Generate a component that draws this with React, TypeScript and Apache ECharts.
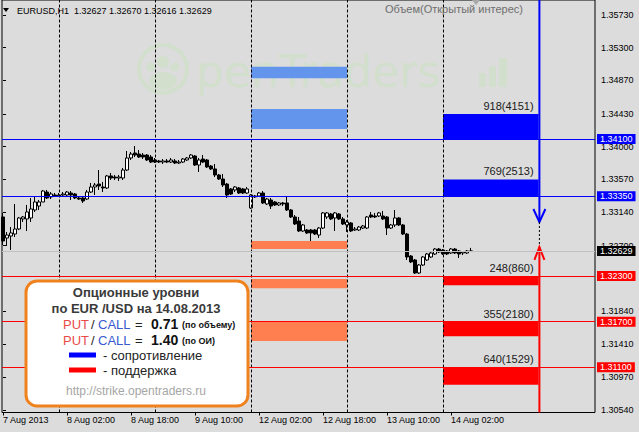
import React, { useEffect, useRef } from "react";
import * as echarts from "echarts";

// ---- time axis (hourly bars) ----
const sessionDays = ["7 Aug", "8 Aug", "9 Aug", "12 Aug", "13 Aug", "14 Aug"];
const sessionFirstHour = [10, 0, 0, 0, 0, 0];
const sessionLastHour = [23, 23, 23, 23, 23, 7];
const xTickLabels = ["7 Aug 2013", "8 Aug 02:00", "8 Aug 18:00", "9 Aug 10:00", "12 Aug 02:00", "12 Aug 18:00", "13 Aug 10:00", "14 Aug 02:00"];

// ---- EURUSD H1 OHLC ----
const opens = [1.33076, 1.328, 1.32826, 1.32852, 1.32918, 1.3305, 1.3305, 1.33063, 1.33168, 1.3322, 1.33273, 1.33404, 1.33339, 1.33365, 1.33352, 1.33365, 1.33365, 1.33391, 1.33378, 1.33326, 1.33326, 1.33312, 1.33404, 1.3347, 1.33509, 1.3347, 1.33457, 1.33615, 1.33601, 1.33588, 1.33588, 1.33693, 1.33851, 1.33917, 1.33903, 1.3389, 1.3389, 1.33864, 1.33825, 1.33812, 1.33798, 1.33812, 1.33798, 1.33812, 1.33785, 1.33798, 1.33825, 1.33851, 1.33877, 1.33759, 1.33838, 1.33825, 1.33746, 1.33707, 1.33628, 1.33575, 1.33509, 1.33444, 1.33431, 1.33457, 1.33444, 1.33391, 1.33194, 1.33352, 1.33352, 1.33391, 1.33247, 1.33299, 1.33273, 1.33234, 1.3326, 1.3326, 1.33168, 1.33076, 1.33023, 1.32892, 1.32905, 1.32905, 1.32905, 1.32839, 1.32931, 1.33076, 1.33115, 1.33063, 1.33115, 1.3305, 1.32971, 1.32997, 1.32905, 1.32905, 1.32931, 1.32931, 1.33102, 1.33089, 1.33089, 1.33089, 1.33076, 1.32931, 1.32971, 1.33063, 1.32971, 1.32852, 1.32563, 1.32511, 1.3234, 1.32445, 1.32511, 1.3255, 1.3259, 1.32655, 1.32642, 1.32629, 1.32603, 1.32655, 1.32629, 1.32603, 1.32603, 1.32627];
const highs = [1.33129, 1.32879, 1.32944, 1.33247, 1.33076, 1.33089, 1.33234, 1.33326, 1.33339, 1.33299, 1.33431, 1.33431, 1.33404, 1.33391, 1.33391, 1.33404, 1.33417, 1.33417, 1.33391, 1.33352, 1.33339, 1.33431, 1.33523, 1.33523, 1.33693, 1.33536, 1.33628, 1.33654, 1.33628, 1.33628, 1.3372, 1.33943, 1.3393, 1.34009, 1.33956, 1.33917, 1.33903, 1.3389, 1.33851, 1.33825, 1.33838, 1.33838, 1.33851, 1.33838, 1.33825, 1.33851, 1.33864, 1.33903, 1.3389, 1.33851, 1.3389, 1.33838, 1.33759, 1.33772, 1.33641, 1.33641, 1.33523, 1.33457, 1.33483, 1.3347, 1.33457, 1.3347, 1.33378, 1.33365, 1.33404, 1.33417, 1.33326, 1.33326, 1.33286, 1.33273, 1.33273, 1.33352, 1.33181, 1.33102, 1.33076, 1.32984, 1.32918, 1.32918, 1.32918, 1.32944, 1.33142, 1.33142, 1.33129, 1.33142, 1.33129, 1.33076, 1.33036, 1.3301, 1.32944, 1.32958, 1.32971, 1.33089, 1.33142, 1.33129, 1.33142, 1.33155, 1.33089, 1.32984, 1.33168, 1.33076, 1.32984, 1.32866, 1.32576, 1.32524, 1.32458, 1.32563, 1.32603, 1.32629, 1.32668, 1.32668, 1.32655, 1.32642, 1.32668, 1.32668, 1.32642, 1.32629, 1.32642, 1.3267];
const lows = [1.32708, 1.32695, 1.32642, 1.32813, 1.32905, 1.3301, 1.32892, 1.3301, 1.33142, 1.33168, 1.33273, 1.33312, 1.33312, 1.33339, 1.33339, 1.33352, 1.33339, 1.33299, 1.33312, 1.33299, 1.3326, 1.33299, 1.33391, 1.33365, 1.33431, 1.33404, 1.33444, 1.33562, 1.33562, 1.33549, 1.33562, 1.3368, 1.33825, 1.33864, 1.33851, 1.33838, 1.33812, 1.33785, 1.33785, 1.33785, 1.33772, 1.33785, 1.33785, 1.33772, 1.33772, 1.33785, 1.33812, 1.33838, 1.33746, 1.33667, 1.33785, 1.3372, 1.33693, 1.33601, 1.33562, 1.3347, 1.33326, 1.33365, 1.33404, 1.33378, 1.33378, 1.33378, 1.33181, 1.33326, 1.33339, 1.33247, 1.33234, 1.33181, 1.3322, 1.3322, 1.3322, 1.33155, 1.33063, 1.32971, 1.32879, 1.32879, 1.32852, 1.3276, 1.32839, 1.328, 1.32918, 1.3305, 1.33036, 1.32892, 1.33036, 1.32971, 1.32879, 1.32879, 1.32892, 1.32892, 1.32918, 1.32918, 1.33063, 1.33063, 1.33076, 1.33036, 1.32839, 1.32918, 1.32944, 1.32958, 1.32839, 1.32511, 1.32471, 1.32327, 1.32327, 1.32432, 1.32498, 1.32537, 1.32576, 1.32603, 1.32576, 1.32576, 1.3259, 1.3259, 1.32537, 1.32576, 1.3259, 1.32616];
const closes = [1.3276, 1.32839, 1.32866, 1.32918, 1.33063, 1.33076, 1.33142, 1.33181, 1.33273, 1.33273, 1.33417, 1.33326, 1.33378, 1.33352, 1.33365, 1.33378, 1.33404, 1.33365, 1.33326, 1.33312, 1.33286, 1.33404, 1.3347, 1.33496, 1.33483, 1.33457, 1.33615, 1.33588, 1.33588, 1.33601, 1.33693, 1.33851, 1.33903, 1.3389, 1.33864, 1.33864, 1.33825, 1.33798, 1.33798, 1.33798, 1.33812, 1.33798, 1.33825, 1.33785, 1.33798, 1.33838, 1.33851, 1.3389, 1.33759, 1.33825, 1.33798, 1.33733, 1.33707, 1.33628, 1.33575, 1.33496, 1.33365, 1.33378, 1.3347, 1.33391, 1.33391, 1.33444, 1.33365, 1.33339, 1.33391, 1.3326, 1.33312, 1.3322, 1.33234, 1.3326, 1.33247, 1.33168, 1.33076, 1.32984, 1.32892, 1.32971, 1.32866, 1.32866, 1.32852, 1.32931, 1.33129, 1.33129, 1.3305, 1.33129, 1.3305, 1.32984, 1.3301, 1.32892, 1.32918, 1.32944, 1.32958, 1.33076, 1.33076, 1.33076, 1.33129, 1.3305, 1.32931, 1.32971, 1.33063, 1.32971, 1.32852, 1.3255, 1.32485, 1.3234, 1.32445, 1.3255, 1.3259, 1.32603, 1.32655, 1.32616, 1.3259, 1.3259, 1.32655, 1.32603, 1.3259, 1.32616, 1.32629, 1.32629];

// ---- price axis ----
const yMax = 1.35927;
const yMin = 1.30507;
const yTickValues = [1.3573, 1.353, 1.3487, 1.3443, 1.34, 1.3357, 1.3314, 1.327, 1.3184, 1.3141, 1.3097, 1.3054];
const xMin = -0.25;
const xMax = 148;

// ---- option levels ----
const callLevels = [1.341, 1.3335];
const callTops = [1.3443, 1.3357];
const callLabels = ["918(4151)", "769(2513)"];
const putLevels = [1.323, 1.317, 1.311];
const putBottoms = [1.3218, 1.3151, 1.3087];
const putLabels = ["248(860)", "355(2180)", "640(1529)"];
const prevCallHighs = [1.3505, 1.34495];
const prevCallLows = [1.349, 1.34232];
const prevPutHighs = [1.3276, 1.3226, 1.3171];
const prevPutLows = [1.32655, 1.3214, 1.31446];
const optionBarEnd = 133.9;
const arrowX = 134.1;
const arrowTips = [1.3301, 1.32682];

const putCallRatios = [0.71, 1.4];
const putCallNotes = ["(по объему)", "(по ОИ)"];

const FONT = "'Liberation Sans', Arial, sans-serif";

export default function App() {
  const ref = useRef<HTMLDivElement>(null);
  useEffect(() => {
    if (!ref.current) return;
    const chart = echarts.init(ref.current, null, { renderer: "svg" });

    // bar time strings
    const times: string[] = [];
    sessionDays.forEach((d, k) => {
      for (let h = sessionFirstHour[k]; h <= sessionLastHour[k]; h++) {
        times.push(d + " " + String(h).padStart(2, "0") + ":00");
      }
    });
    const daySeparators = times.map((t, i) => (t.endsWith(" 00:00") ? i : -1)).filter((i) => i >= 0);
    const xTickValues = xTickLabels.map((l, k) => (k === 0 ? 0 : times.indexOf(l)));
    const lastSep = daySeparators[daySeparators.length - 1];
    const prevSepA = daySeparators[daySeparators.length - 3];
    const prevSepB = daySeparators[daySeparators.length - 2];

    const candles = opens.map((o, i) => [i, o, closes[i], lows[i], highs[i]]);

    // bands: [x0, x1, pA, pB, colorIdx, labelIdx]
    const bandColors = ["#0000ff", "#ff0000", "#6495ed", "#ff7f50"];
    const bandLabels = [...callLabels, ...putLabels];
    const bands: number[][] = [];
    callLevels.forEach((l, i) => bands.push([lastSep, optionBarEnd, l, callTops[i], 0, i]));
    putLevels.forEach((l, i) => bands.push([lastSep, optionBarEnd, l, putBottoms[i], 1, callLabels.length + i]));
    prevCallHighs.forEach((h, i) => bands.push([prevSepA, prevSepB, h, prevCallLows[i], 2, -1]));
    prevPutHighs.forEach((h, i) => bands.push([prevSepA, prevSepB, h, prevPutLows[i], 3, -1]));

    const levelLabel = (bg: string) => ({
      show: true,
      position: "end",
      distance: 2,
      formatter: (p: any) => Number(p.value).toFixed(5),
      backgroundColor: bg,
      color: "#ffffff",
      padding: [1, 3, 0, 3],
      fontSize: 9,
      lineHeight: 9,
      fontFamily: FONT,
    });

    const markLineData: any[] = [];
    daySeparators.forEach((s) =>
      markLineData.push({ xAxis: s, lineStyle: { color: "#000", width: 1, type: [3, 2] }, label: { show: false } })
    );
    callLevels.forEach((l) => markLineData.push({ yAxis: l, lineStyle: { color: "#0000ff", width: 1, type: "solid" }, label: levelLabel("#0000ff") }));
    putLevels.forEach((l) => markLineData.push({ yAxis: l, lineStyle: { color: "#ff0000", width: 1, type: "solid" }, label: levelLabel("#ff0000") }));
    markLineData.push({ yAxis: closes[closes.length - 1], lineStyle: { color: "#c0c0c0", width: 1, type: "solid" }, label: levelLabel("#000000") });

    const title = "EURUSD,H1  " + [opens, highs, lows, closes].map((a) => a[a.length - 1].toFixed(5)).join(" ");

    const Z = 100;
    const txt = (text: string, x: number, y: number, font: string, fill: string, align = "left", z = Z) => ({
      type: "text",
      x,
      y,
      z,
      silent: true,
      style: { text, font, fill, align, textAlign: align, verticalAlign: "middle", textVerticalAlign: "middle" },
    });

    const wm = "#d3dfcd";
    const graphics: any[] = [
      // watermark
      { type: "circle", z: 0, silent: true, shape: { cx: 163, cy: 69, r: 24 }, style: { fill: "none", stroke: wm, lineWidth: 4 } },
      { type: "circle", z: 0, silent: true, shape: { cx: 163, cy: 62, r: 6 }, style: { fill: wm } },
      { type: "circle", z: 0, silent: true, shape: { cx: 151, cy: 67, r: 4.5 }, style: { fill: wm } },
      { type: "circle", z: 0, silent: true, shape: { cx: 175, cy: 67, r: 4.5 }, style: { fill: wm } },
      { type: "ellipse", z: 0, silent: true, shape: { cx: 163, cy: 81, rx: 14, ry: 9 }, style: { fill: wm } },
      txt("penTraders", 196, 71, "44px 'DejaVu Sans'", wm, "left", 0),
      { type: "rect", z: 0, silent: true, shape: { x: 479, y: 73, width: 7, height: 14 }, style: { fill: wm } },
      { type: "rect", z: 0, silent: true, shape: { x: 489, y: 66, width: 7, height: 21 }, style: { fill: wm } },
      { type: "rect", z: 0, silent: true, shape: { x: 499, y: 58, width: 8, height: 29 }, style: { fill: wm } },
      // header
      { type: "polygon", z: Z, silent: true, shape: { points: [[3, 8], [9, 8], [6, 12]] }, style: { fill: "#000" } },
      txt(title, 17, 10.5, "9px " + FONT, "#000000"),
      txt("Объем(Открытый интерес)", 385, 9, "11px " + FONT, "#6e6e6e"),
      { type: "polygon", z: Z, silent: true, shape: { points: [[472, 0], [480, 0], [476, 5]] }, style: { fill: "#a8a8a8" } },
      // info box
      { type: "rect", z: Z, silent: true, shape: { x: 26, y: 281, width: 222, height: 125, r: 11 }, style: { fill: "#ffffff", stroke: "#f0821e", lineWidth: 3 } },
      txt("Опционные уровни", 136, 292, "bold 13px " + FONT, "#3a3a3a", "center"),
      txt("по EUR /USD на 14.08.2013", 136, 308, "bold 13px " + FONT, "#3a3a3a", "center"),
      { type: "rect", z: Z, silent: true, shape: { x: 69, y: 352.5, width: 27, height: 5 }, style: { fill: "#0000ff" } },
      txt("- сопротивление", 103, 355, "13px " + FONT, "#222222"),
      { type: "rect", z: Z, silent: true, shape: { x: 69, y: 367.5, width: 27, height: 5 }, style: { fill: "#ff0000" } },
      txt("- поддержка", 103, 370, "13px " + FONT, "#222222"),
      txt("http://strike.opentraders.ru", 136, 391, "12px " + FONT, "#a6a6a6", "center"),
    ];
    putCallRatios.forEach((r, k) => {
      const y = 324 + k * 16;
      graphics.push(txt("PUT", 63, y, "13px " + FONT, "#e84a4a"));
      graphics.push(txt("/", 91, y, "13px " + FONT, "#222222"));
      graphics.push(txt("CALL", 98, y, "13px " + FONT, "#3a5ad0"));
      graphics.push(txt("=", 135, y, "13px " + FONT, "#222222"));
      graphics.push(txt(r.toFixed(2), 151, y, "bold 14px " + FONT, "#111111"));
      graphics.push(txt(putCallNotes[k], 182, y + 1, "bold 9px " + FONT, "#111111"));
    });

    const option: any = {
      animation: false,
      backgroundColor: "#dcdcdc",
      textStyle: { fontFamily: FONT },
      grid: { left: 2, right: 44, top: 0, bottom: 19.5, show: true, borderColor: "#000", borderWidth: 1, backgroundColor: "transparent" },
      xAxis: {
        type: "value",
        min: xMin,
        max: xMax,
        axisLine: { show: false },
        splitLine: { show: false },
        axisTick: { show: true, customValues: xTickValues, length: 3, lineStyle: { color: "#000" } },
        axisLabel: {
          customValues: xTickValues,
          formatter: (v: number) => {
            const k = xTickValues.indexOf(Math.round(v));
            return k >= 0 ? xTickLabels[k] : "";
          },
          align: "left",
          margin: 3,
          color: "#000",
          fontSize: 9,
          fontFamily: FONT,
        },
      },
      yAxis: {
        type: "value",
        position: "right",
        min: yMin,
        max: yMax,
        axisLine: { show: false },
        splitLine: { show: false },
        axisTick: { show: true, customValues: yTickValues, length: 3, lineStyle: { color: "#000" } },
        axisLabel: {
          customValues: yTickValues,
          formatter: (v: number) => v.toFixed(5),
          margin: 6,
          color: "#000",
          fontSize: 9,
          fontFamily: FONT,
        },
      },
      graphic: { elements: graphics },
      series: [
        {
          type: "custom",
          z: 1,
          silent: true,
          encode: { x: [0, 1], y: [2, 3] },
          data: bands,
          renderItem: (params: any, api: any) => {
            const b = bands[params.dataIndex];
            const p1 = api.coord([b[0], b[2]]);
            const p2 = api.coord([b[1], b[3]]);
            const x = p1[0];
            const w = p2[0] - p1[0];
            const y = Math.min(p1[1], p2[1]);
            const h = Math.abs(p2[1] - p1[1]);
            const children: any[] = [{ type: "rect", shape: { x, y, width: w, height: h }, style: { fill: bandColors[b[4]] } }];
            if (b[5] >= 0) {
              children.push({
                type: "text",
                x: x + w - 5,
                y: y - 8,
                style: {
                  text: bandLabels[b[5]],
                  fill: "#1a1a1a",
                  font: "11px " + FONT,
                  align: "right",
                  textAlign: "right",
                  verticalAlign: "middle",
                  textVerticalAlign: "middle",
                },
              });
            }
            return { type: "group", children };
          },
        },
        {
          type: "candlestick",
          z: 3,
          barWidth: 3,
          encode: { x: 0, y: [1, 2, 3, 4] },
          data: candles,
          itemStyle: { color: "#ffffff", color0: "#000000", borderColor: "#000000", borderColor0: "#000000", borderWidth: 1 },
          markLine: { silent: true, precision: 5, symbol: ["none", "none"], animation: false, data: markLineData },
        },
        {
          type: "custom",
          z: 4,
          silent: true,
          clip: false,
          encode: { x: 0, y: 1 },
          data: [[arrowX, arrowTips[0]]],
          renderItem: (params: any, api: any) => {
            const top = api.coord([arrowX, yMax]);
            const bt = api.coord([arrowX, arrowTips[0]]);
            const rt = api.coord([arrowX, arrowTips[1]]);
            const bot = api.coord([arrowX, yMin]);
            const x = top[0];
            return {
              type: "group",
              children: [
                { type: "line", shape: { x1: x, y1: top[1], x2: x, y2: bt[1] }, style: { stroke: "#0000ff", lineWidth: 2 } },
                { type: "polyline", shape: { points: [[x - 6, bt[1] - 13], [x, bt[1]], [x + 6, bt[1] - 13]] }, style: { stroke: "#0000ff", lineWidth: 2, fill: "none" } },
                { type: "line", shape: { x1: x, y1: bt[1], x2: x, y2: rt[1] }, style: { stroke: "#000000", lineWidth: 1, lineDash: [2, 2] } },
                { type: "polyline", shape: { points: [[x - 5, rt[1] + 13], [x, rt[1]], [x + 5, rt[1] + 13]] }, style: { stroke: "#ff0000", lineWidth: 2, fill: "none" } },
                { type: "line", shape: { x1: x, y1: rt[1], x2: x, y2: bot[1] }, style: { stroke: "#ff0000", lineWidth: 2 } },
              ],
            };
          },
        },
      ],
    };
    chart.setOption(option);
    return () => chart.dispose();
  }, []);
  return <div ref={ref} style={{ position: "absolute", left: 0, top: 0, width: 639, height: 432 }} />;
}
